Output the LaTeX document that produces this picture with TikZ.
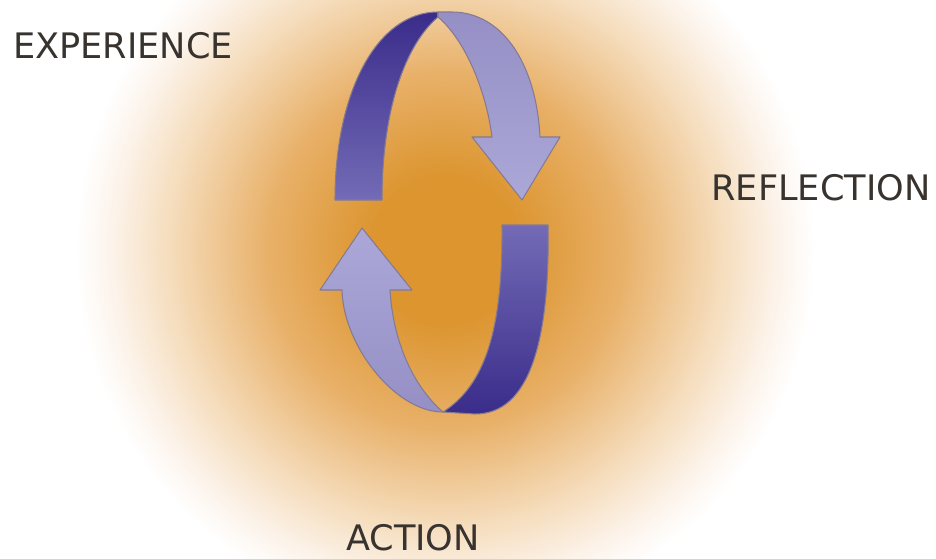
\documentclass[tikz,border=0pt]{standalone}
\usepackage{fontspec}
\setmainfont{DejaVu Sans}
\usepackage{xcolor}
\definecolor{glowcore}{HTML}{DC952F}
\definecolor{glowmid}{HTML}{E8B068}
\definecolor{glowpale}{HTML}{F5DCBB}
\definecolor{glowfade}{HTML}{FCF3EA}
\definecolor{indigo}{HTML}{3A2C8A}
\definecolor{indigolt}{HTML}{736BB6}
\definecolor{lilac}{HTML}{ABA8D8}
\definecolor{lilacdk}{HTML}{958FC5}
\definecolor{rim}{HTML}{857A92}
\definecolor{ink}{HTML}{38332E}
\pgfdeclareradialshading{glow}{\pgfpoint{0bp}{0bp}}{color(0bp)=(glowcore); color(2.6bp)=(glowcore); color(6.3bp)=(glowmid); color(9.8bp)=(glowpale); color(11.9bp)=(glowfade); color(13.2bp)=(white); color(50bp)=(white)}

\begin{document}
\begin{tikzpicture}[x=0.02cm, y=-0.02cm,
    band/.style={draw=rim, line width=0.6pt, line join=round},
    stage/.style={font=\fontsize{20}{24}\selectfont, text=ink, inner sep=0pt}]
  \useasboundingbox (0,0) rectangle (936,558);
  \begin{scope}
    \clip (0,0) rectangle (936,558);
    \fill[white] (0,0) rectangle (936,558);
    \fill[shading=glow] (445,250) circle [radius=700];
  \end{scope}

  \path[band, top color=indigo, bottom color=indigolt]
    (335,200) -- (382,200) .. controls (382,110) and (405,45) .. (438,17)
    -- (438,12) .. controls (378,12) and (335,90) .. (335,200) -- cycle;
  \path[band, top color=lilacdk, bottom color=lilac]
    (438,12) -- (438,17) .. controls (465,40) and (486,90) .. (492,137)
    -- (472,137) -- (522,200) -- (560,137) -- (540,137)
    .. controls (536,60) and (500,12) .. (452,12) -- cycle;

  \path[band, top color=indigolt, bottom color=indigo]
    (502,225) -- (548,225) .. controls (550,340) and (530,414) .. (475,414)
    -- (443,412) .. controls (485,385) and (503,330) .. (502,225) -- cycle;
  \path[band, top color=lilac, bottom color=lilacdk]
    (443,412) .. controls (395,412) and (343,345) .. (342,290)
    -- (320,290) -- (362,228) -- (412,290) -- (390,290)
    .. controls (393,340) and (412,385) .. (443,412) -- cycle;

  \node[stage, anchor=base] (exp) at (123,58) {EXPERIENCE};
  \node[stage, anchor=base] (refl) at (821,200) {REFLECTION};
  \node[stage, anchor=base] (act) at (413,550) {ACTION};
\end{tikzpicture}
\end{document}
